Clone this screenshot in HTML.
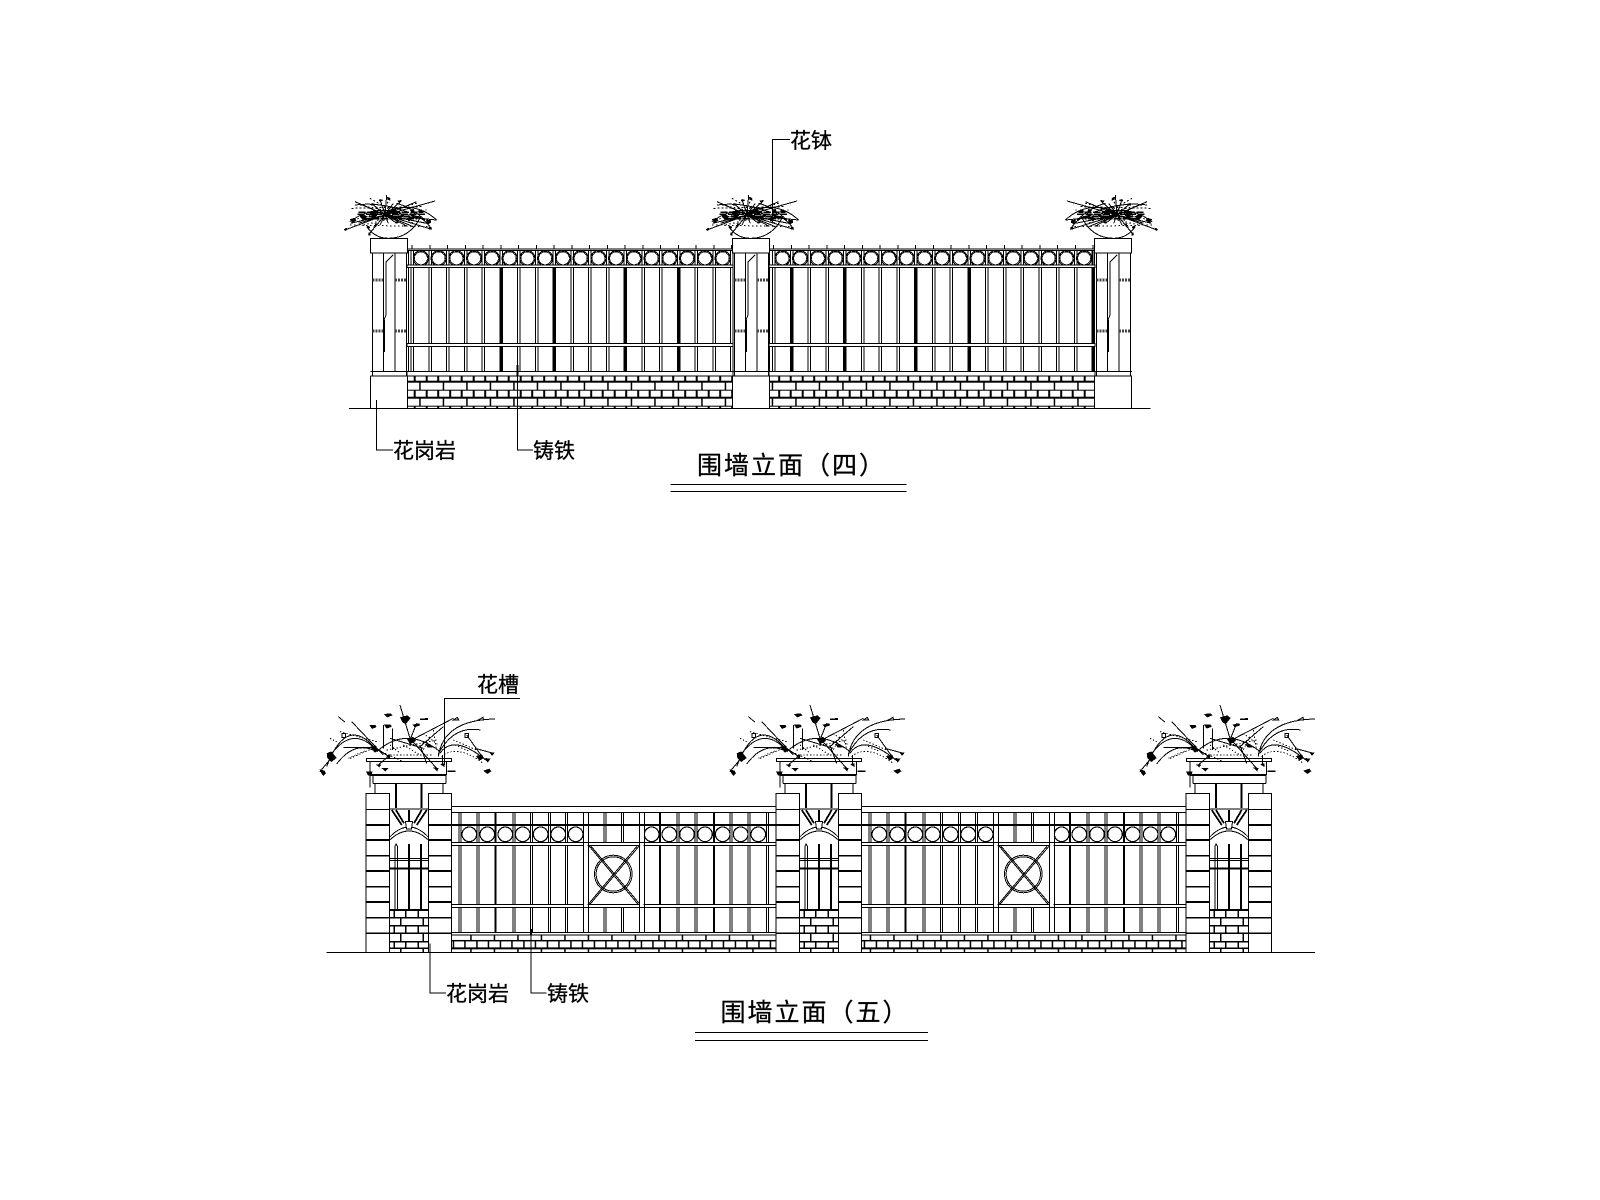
<!DOCTYPE html>
<html><head><meta charset="utf-8"><title>围墙立面</title>
<style>html,body{margin:0;padding:0;background:#fff}svg{display:block}
text{font-family:"Liberation Sans","Noto Sans CJK SC","WenQuanYi Zen Hei",sans-serif;fill:#000;stroke:#000;stroke-width:.3}</style></head><body>
<svg xmlns="http://www.w3.org/2000/svg" width="1600" height="1200" viewBox="0 0 1600 1200" shape-rendering="crispEdges">
<defs>
<pattern id="br1" patternUnits="userSpaceOnUse" x="407.7" y="373.7" width="23.5" height="16">
<path d="M0 0H23.5M0 8H23.5M7 0V8M19 0V8M12.3 8V16" stroke="#000" stroke-width="1.6" fill="none"/></pattern>
<pattern id="br2" patternUnits="userSpaceOnUse" x="451.7" y="935" width="23.5" height="17.3">
<path d="M0 5.7H23.5M0 13.3H23.5M19.3 0V5.7M1.6 5.7V13.3M13.3 5.7V13.3M19.3 13.3V17.3" stroke="#000" stroke-width="1.6" fill="none"/></pattern>

<g id="tb" fill="none" stroke="#000"><path d="M1.2 245V249M0 249V372M2.5 249V372"/></g>
<g id="tt" stroke="#000" stroke-width="2" fill="none"><path d="M1.2 267V372"/></g>
<g id="tc" fill="none" stroke="#000"><circle cx="9.9" cy="258.3" r="7.5" stroke-width="1.2"/><circle cx="9.9" cy="258.3" r="6.4" stroke-width=".7"/></g>

<g id="tp" fill="none" stroke="#000">
<rect x="370.3" y="238.3" width="37.4" height="14.5" fill="#fff"/>
<rect x="372.5" y="253" width="34" height="123" fill="#fff"/>
<path d="M383.3 253V372M395 253V372M370.5 371.7H408M370.5 376H408M370.5 376V408.5M407.5 376V408.5"/>
<path d="M393 255L386 262V315L384 320V352" stroke-width="1"/>
<path d="M384 320V352" stroke-width="1.6"/>
<path d="M372.5 280H383M395 280H406M372.5 331H383M395 331H406" stroke-width="3" stroke="#444" stroke-dasharray="2 1"/>
</g>

<g id="tf" transform="translate(330,170) scale(.3333)" fill="none" stroke="#000" stroke-width="3">
<path d="M110 170Q135 205 175 205Q240 205 272 140"/>
<path d="M85 127H280M82 133H285M90 140H275M100 146H262" stroke-width="4" stroke-dasharray="22 4"/>
<path d="M165 135L45 180M165 135L62 160M165 135L75 95M165 135L100 105M165 135L125 100M165 135L150 88M165 135L170 75M165 135L190 100M165 135L215 92M165 135L260 95M165 135L315 93M165 135L320 150M165 135L305 178M165 135L290 160M165 135L250 170M165 135L225 165M165 135L200 160M165 135L175 160M165 135L150 165M165 135L115 195M165 135L85 160"/>
<path d="M75 105Q150 95 230 125M60 155Q120 110 190 125M320 150Q260 95 180 120M305 178Q270 120 200 140M200 100Q240 110 285 150"/>
<path d="M65 115L280 110M60 165L300 170M90 105L300 150M70 150L260 100M100 165L290 120M120 85L250 160M180 85L130 175" stroke-width="3" stroke-dasharray="5 7"/>
<path fill="#000" stroke="none" d="M60 148l14-5l5 8l-12 9zM42 178l8-5l2 6l-7 4zM170 80l9 3l3 9l-9-2zM146 88l11 0l2 5l-11 1zM122 102l11-2l0 5l-10 2zM202 92l12-2l0 5l-9 1zM90 135l16 0l3 11l-11 5zM118 125l18-3l6 15l-15 6zM180 120l18-3l6 14l-16 4zM265 118l11 0l2 9l-11 2zM288 150l14 0l2 8l-11 5zM296 170l9 2l0 6l-8 0zM110 168l8 0l3 6l-8 2zM134 160l9 2l0 5l-8 0zM195 155l9-2l2 6l-8 2zM240 120l11-3l3 8l-9 3zM115 188l6 0l0 8l-5 0zM222 165l8 0l0 5l-8 0z"/>
</g>

<g id="fb" transform="translate(310,670) scale(.3333)" fill="none" stroke="#000" stroke-width="3">
<path d="M50 290Q110 130 200 240M60 258Q125 165 195 236M80 282Q130 215 190 240M100 232H190M200 245Q290 165 390 245M385 260Q400 150 555 147M385 252Q430 165 512 180M390 250Q430 190 530 272M125 155L220 255M270 105L300 205M320 160L300 210M195 232L240 262M300 205L380 295M470 195L520 265M495 235L550 250M305 210L430 145M65 262L30 305M205 285L240 255M220 165V235M248 175V240M180 310V352M398 285V255M350 280L330 225M330 230L400 170M240 205L340 235"/>
<path d="M120 265L190 235M240 255H370M395 260Q440 220 520 280M370 180L380 240M230 240L380 210M90 185L200 215M115 265L170 240M225 250L280 275M340 190L385 225M360 200L340 240M240 225L270 250M280 225L330 255M60 205L80 215M430 210L500 240M435 225L480 245" stroke-width="3" stroke-dasharray="4 6"/>
<rect x="96" y="190" width="10" height="12"/><rect x="465" y="190" width="10" height="12"/>
<path d="M85 140l12 10l8 6M430 150l12-8l4 8zM505 150l14-8l2 8z"/>
<path fill="#000" stroke="none" d="M50 250l14-6l16 20l-16 12l-12-12zM28 298l16 4l4 8l-8 8l-6-8zM178 165l18 0l4 6l-14 6zM222 132l20-2l6 6l-16 6zM222 164l20 0l4 6l-16 6zM270 142l22-6l10 8l-14 18l-10-4zM308 164l20-4l2 6l-16 6zM330 146l24-2l0 6l-24 0zM498 258l18-4l6 10l-14 8zM525 264l16 2l-8 12zM538 246l16 2l-8 10zM520 302l18-6l6 8l-12 8zM168 304l20 0l-4 12l-10 0zM214 294l22 0l-10 10zM198 284l16 0l-6 8zM368 292l18 2l-4 10zM390 282l14-2l0 12zM182 230l16-4l6 16l-10 6zM290 205l20-4l8 12l-18 10zM345 222l18 2l4 8l-14 0zM412 302l24 0l0 4l-24 0zM228 258l14 0l-4 8z"/>
</g>

<g id="bp" fill="none" stroke="#000">
<rect x="366" y="793.3" width="23.7" height="159" fill="#fff"/>
<rect x="428.3" y="793.3" width="23.4" height="159" fill="#fff"/>
<path d="M366 809.3H389.7M428.3 809.3H451.7"/>
<path stroke-width="1.8" d="M366 825H389.7M428.3 825H451.7M366 840H389.7M428.3 840H451.7M366 855.7H389.7M428.3 855.7H451.7M366 871H389.7M428.3 871H451.7M366 886.7H389.7M428.3 886.7H451.7M366 902H389.7M428.3 902H451.7M366 917.7H389.7M428.3 917.7H451.7M366 933.3H389.7M428.3 933.3H451.7"/>
<rect x="366.7" y="758.3" width="85" height="3.4"/>
<path d="M370 761.7V775M446.7 761.7V775M373 775V783.3M446 775V783.3M375 783.3V793.3M443 783.3V793.3M373 783.3H446"/>
<path d="M370 775H446.7" stroke-width="2"/>
<path stroke-width="2" d="M396 783.3V808M421.7 783.3V808"/>
<path d="M389.7 809H428.3M389.7 837Q409 817 428.3 837M389.7 840Q409 822 428.3 840"/>
<path stroke-width="1.8" d="M391.7 810L401.7 825M396 810L404 823.3M426.7 810L416.7 825M421.7 810L414 823.3M409 810V821.7"/>
<path d="M405.5 821.7H412.5L411.5 829H406.5Z" fill="#fff"/>
<path d="M395 846V909M397.3 846V909M395 846L396 844L397.3 846"/>
<path stroke-width="2" d="M409 844V909.3M421 844V909.3"/>
<path d="M389.7 858.3H428.3M389.7 860.3H428.3"/>
<path stroke-width="2" d="M389.7 868.3H428.3"/>
<path stroke-width="1.7" d="M389.7 910H428.3M389.7 917.7H428.3M389.7 925.7H428.3M389.7 933.3H428.3M389.7 941.7H428.3M389.7 948.3H428.3M394.3 910V917.7M405.7 910V917.7M418.3 910V917.7M400.7 917.7V925.7M423.3 917.7V925.7M394.3 925.7V933.3M405.7 925.7V933.3M418.3 925.7V933.3M400.7 933.3V941.7M423.3 933.3V941.7M394.3 941.7V948.3M405.7 941.7V948.3M418.3 941.7V948.3M400.7 948.3V952M423.3 948.3V952"/>
</g>

<g id="bs" fill="none" stroke="#000">
<path stroke-width="2" d="M451.7 825H776.3"/>
<path d="M459 812.7V932.3M461 812.7V932.3M477 812.7V932.3M479 812.7V932.3M513 812.7V932.3M515 812.7V932.3M530.7 812.7V932.3M532.7 812.7V932.3M548.3 812.7V932.3M550.3 812.7V932.3M565.7 812.7V932.3M567.7 812.7V932.3M583.3 812.7V932.3M588.3 812.7V932.3M639.5 812.7V932.3M644.3 812.7V932.3M677 812.7V932.3M679 812.7V932.3M695 812.7V932.3M697 812.7V932.3M730 812.7V932.3M732 812.7V932.3M748 812.7V932.3M750 812.7V932.3M766.3 812.7V932.3M768.3 812.7V932.3M604 812.7V842.7M606 812.7V842.7M621.3 812.7V842.7M623.3 812.7V842.7M604 907.3V932.3M606 907.3V932.3M621.3 907.3V932.3M623.3 907.3V932.3"/>
<path stroke-width="2" d="M495.7 812.7V932.3M660 812.7V932.3M714 812.7V932.3"/>
<g fill="#fff">
<rect x="451.7" y="806.7" width="324.6" height="6"/>
<rect x="451.7" y="842.7" width="324.6" height="2.6"/>
<rect x="451.7" y="904.3" width="324.6" height="3"/>
<rect x="451.7" y="932.3" width="324.6" height="2.7"/>
</g>
<path d="M583.3 842V908M588.3 842V908M639.5 842V908M644.3 842V908" />
<rect x="584" y="843.5" width="3.6" height="63" fill="#fff" stroke="none"/>
<rect x="640.2" y="843.5" width="3.4" height="63" fill="#fff" stroke="none"/>
<g stroke-width="1.2">
<circle cx="469.3" cy="834.3" r="7.3" fill="#fff"/><circle cx="487.3" cy="834.3" r="7.3" fill="#fff"/><circle cx="505.3" cy="834.3" r="7.3" fill="#fff"/><circle cx="522.7" cy="834.3" r="7.3" fill="#fff"/><circle cx="540.7" cy="834.3" r="7.3" fill="#fff"/><circle cx="558.3" cy="834.3" r="7.3" fill="#fff"/><circle cx="575.7" cy="834.3" r="7.3" fill="#fff"/>
<circle cx="651.7" cy="834.3" r="7.3" fill="#fff"/><circle cx="669.3" cy="834.3" r="7.3" fill="#fff"/><circle cx="687" cy="834.3" r="7.3" fill="#fff"/><circle cx="705" cy="834.3" r="7.3" fill="#fff"/><circle cx="722.7" cy="834.3" r="7.3" fill="#fff"/><circle cx="740.7" cy="834.3" r="7.3" fill="#fff"/><circle cx="758.3" cy="834.3" r="7.3" fill="#fff"/>
</g>
<circle cx="613.3" cy="874" r="18.8"/><circle cx="613.3" cy="874" r="17.2"/>
<path d="M588.3 845L638 904.3M590 845L640 904.3M638 845L588.3 904.3M640 845L590 904.3"/>
</g>
</defs>
<rect width="1600" height="1200" fill="#fff"/>

<!-- TOP ELEVATION -->
<rect x="407.7" y="376" width="324.6" height="32.5" fill="url(#br1)"/>
<rect x="769.7" y="376" width="324.6" height="32.5" fill="url(#br1)"/>
<g fill="none" stroke="#000">
<path d="M408.5 250V372M769.5 250V372M1093 250V372"/>
</g>
<use href="#tb" x="411"/><use href="#tb" x="428.75"/><use href="#tb" x="446.5"/><use href="#tb" x="464.25"/><use href="#tb" x="482"/><use href="#tb" x="499.75"/><use href="#tb" x="517.5"/><use href="#tb" x="535.25"/><use href="#tb" x="553"/><use href="#tb" x="570.75"/><use href="#tb" x="588.5"/><use href="#tb" x="606.25"/><use href="#tb" x="624"/><use href="#tb" x="641.75"/><use href="#tb" x="659.5"/><use href="#tb" x="677.25"/><use href="#tb" x="695"/><use href="#tb" x="712.75"/><use href="#tb" x="730.5"/>
<use href="#tt" x="499.75"/><use href="#tt" x="553"/><use href="#tt" x="624"/><use href="#tt" x="677.25"/>
<use href="#tc" x="411"/><use href="#tc" x="428.75"/><use href="#tc" x="446.5"/><use href="#tc" x="464.25"/><use href="#tc" x="482"/><use href="#tc" x="499.75"/><use href="#tc" x="517.5"/><use href="#tc" x="535.25"/><use href="#tc" x="553"/><use href="#tc" x="570.75"/><use href="#tc" x="588.5"/><use href="#tc" x="606.25"/><use href="#tc" x="624"/><use href="#tc" x="641.75"/><use href="#tc" x="659.5"/><use href="#tc" x="677.25"/><use href="#tc" x="695"/><use href="#tc" x="712.75"/>
<use href="#tb" x="772.5"/><use href="#tb" x="790.25"/><use href="#tb" x="808"/><use href="#tb" x="825.75"/><use href="#tb" x="843.5"/><use href="#tb" x="861.25"/><use href="#tb" x="879"/><use href="#tb" x="896.75"/><use href="#tb" x="914.5"/><use href="#tb" x="932.25"/><use href="#tb" x="950"/><use href="#tb" x="967.75"/><use href="#tb" x="985.5"/><use href="#tb" x="1003.25"/><use href="#tb" x="1021"/><use href="#tb" x="1038.75"/><use href="#tb" x="1056.5"/><use href="#tb" x="1074.25"/><use href="#tb" x="1092"/>
<use href="#tt" x="790.25"/><use href="#tt" x="843.5"/><use href="#tt" x="914.5"/><use href="#tt" x="967.75"/><use href="#tt" x="1092"/>
<use href="#tc" x="772.5"/><use href="#tc" x="790.25"/><use href="#tc" x="808"/><use href="#tc" x="825.75"/><use href="#tc" x="843.5"/><use href="#tc" x="861.25"/><use href="#tc" x="879"/><use href="#tc" x="896.75"/><use href="#tc" x="914.5"/><use href="#tc" x="932.25"/><use href="#tc" x="950"/><use href="#tc" x="967.75"/><use href="#tc" x="985.5"/><use href="#tc" x="1003.25"/><use href="#tc" x="1021"/><use href="#tc" x="1038.75"/><use href="#tc" x="1056.5"/><use href="#tc" x="1074.25"/>
<g fill="#fff" stroke="#000">
<rect x="407" y="249" width="326" height="1.7"/><rect x="407" y="265" width="326" height="2.3"/><rect x="407" y="343.3" width="326" height="3.4"/><rect x="407" y="371.7" width="326" height="4.3"/>
<rect x="769" y="249" width="326" height="1.7"/><rect x="769" y="265" width="326" height="2.3"/><rect x="769" y="343.3" width="326" height="3.4"/><rect x="769" y="371.7" width="326" height="4.3"/>
</g>
<use href="#tp"/><use href="#tp" x="362"/><use href="#tp" x="724"/>
<use href="#tf"/><use href="#tf" x="362"/>
<g transform="translate(1502 0) scale(-1 1)"><use href="#tf"/></g>
<g fill="none" stroke="#000">
<path d="M349 408.5H1150.7"/>
<path d="M772.5 223V139.3H790M376.7 400V450H393M517.3 376V450H533"/>
<path d="M517.3 365V376" stroke-width="2"/>
<path d="M670.7 484.3H906.7M670.7 491.3H906.7"/>
</g>
<text x="790" y="148" font-size="21">花钵</text>
<text x="393" y="458" font-size="21">花岗岩</text>
<text x="533" y="458" font-size="21">铸铁</text>
<text x="697" y="474" font-size="25" letter-spacing="2">围墙立面（四）</text>

<!-- BOTTOM ELEVATION -->
<rect x="451.7" y="935" width="324.6" height="17.3" fill="url(#br2)"/>
<rect x="861.7" y="935" width="324.3" height="17.3" fill="url(#br2)"/>
<use href="#bs"/><use href="#bs" x="410"/>
<use href="#bp"/><use href="#bp" x="410"/><use href="#bp" x="820"/>
<use href="#fb"/><use href="#fb" x="410"/><use href="#fb" x="820"/>
<g fill="none" stroke="#000">
<path d="M326.7 952.3H1315"/>
<path d="M520 698.3H444.3V765M430 943.3V993H446M531 935V993H546.7"/>
<path d="M531 929V935" stroke-width="2"/>
<path d="M695 1032.3H928M695 1040.3H928"/>
</g>
<text x="477" y="692" font-size="21">花槽</text>
<text x="446" y="1001" font-size="21">花岗岩</text>
<text x="547" y="1001" font-size="21">铸铁</text>
<text x="720.5" y="1021" font-size="25" letter-spacing="2">围墙立面（五）</text>
</svg>
</body></html>
